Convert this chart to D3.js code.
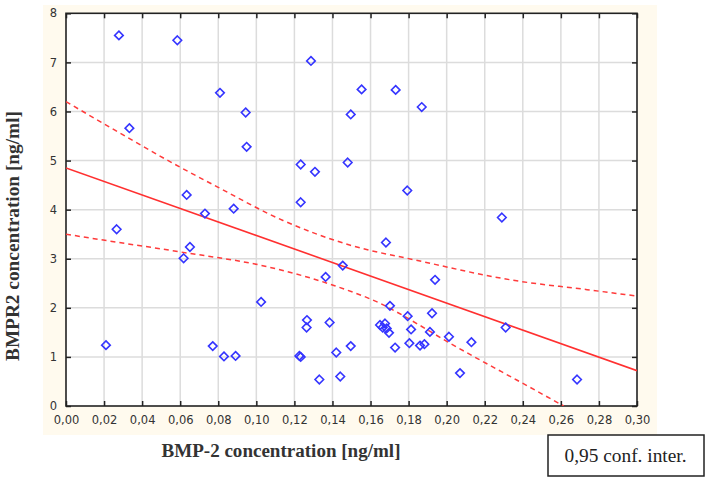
<!DOCTYPE html>
<html>
<head>
<meta charset="utf-8">
<script src="https://cdn.jsdelivr.net/npm/d3@7"></script>
<style>
  html, body { margin: 0; padding: 0; background: #ffffff; }
  svg { display: block; }
</style>
</head>
<body>
<svg id="chart" width="710" height="481"></svg>
<script>
// ---- data ----
const xValues = [0.0278, 0.0585, 0.1287, 0.0809, 0.0944, 0.1496, 0.1553, 0.1732, 0.1869, 0.0333,
                 0.0949, 0.1233, 0.1308, 0.1480, 0.1793, 0.0634, 0.1233, 0.0881, 0.0730, 0.2290,
                 0.0266, 0.0651, 0.0618, 0.1364, 0.1454, 0.1025, 0.1266, 0.1264, 0.1385, 0.0210,
                 0.0771, 0.0830, 0.0891, 0.1226, 0.1233, 0.1496, 0.1420, 0.1331, 0.1441,
                 0.1681, 0.1939, 0.1702, 0.1923, 0.1795, 0.1650, 0.1676, 0.1664, 0.1685, 0.1697,
                 0.1813, 0.1912, 0.2310, 0.2012, 0.2130, 0.1804, 0.1860, 0.1883, 0.1729, 0.2070, 0.2685];
const yValues = [7.55, 7.45, 7.03, 6.38, 5.98, 5.94, 6.45, 6.44, 6.09, 5.66,
                 5.28, 4.92, 4.77, 4.96, 4.39, 4.30, 4.15, 4.02, 3.92, 3.84,
                 3.60, 3.24, 3.01, 2.63, 2.86, 2.12, 1.75, 1.60, 1.70, 1.24,
                 1.22, 1.01, 1.02, 1.02, 1.00, 1.22, 1.09, 0.54, 0.60,
                 3.33, 2.57, 2.04, 1.89, 1.83, 1.65, 1.68, 1.60, 1.58, 1.49,
                 1.56, 1.51, 1.60, 1.41, 1.30, 1.28, 1.23, 1.26, 1.19, 0.67, 0.54];

const fitX = [0.00, 0.30];
const fitY = [4.85, 0.72];

const upperX = [0.000, 0.0257, 0.0564, 0.0792, 0.114, 0.149, 0.184, 0.2368, 0.2718, 0.300];
const upperY = [6.20, 5.62, 4.94, 4.47, 3.78, 3.28, 2.97, 2.55, 2.38, 2.24];
const lowerX = [0.000, 0.0179, 0.0599, 0.1054, 0.1404, 0.1667, 0.1843, 0.2017, 0.2193, 0.2368, 0.2615];
const lowerY = [3.50, 3.39, 3.14, 2.84, 2.46, 2.06, 1.68, 1.28, 0.90, 0.53, 0.00];

const xTicks = [0, 0.02, 0.04, 0.06, 0.08, 0.10, 0.12, 0.14, 0.16, 0.18, 0.20, 0.22, 0.24, 0.26, 0.28, 0.30];
const yTicks = [0, 1, 2, 3, 4, 5, 6, 7, 8];
const xTitle = "BMP-2 concentration [ng/ml]";
const yTitle = "BMPR2 concentration [ng/ml]";
const legendText = "0,95 conf. inter.";

// ---- drawing ----
const svg = d3.select("#chart");
const pL = 66, pR = 637, pT = 13.3, pB = 406;

svg.append("rect").attr("x", 43).attr("y", 5).attr("width", 614).attr("height", 430)
  .attr("fill", "#fffaee");
svg.append("rect").attr("x", pL).attr("y", pT).attr("width", pR - pL).attr("height", pB - pT)
  .attr("fill", "#ffffff");

const x = d3.scaleLinear().domain([0, 0.30]).range([pL, pR]);
const y = d3.scaleLinear().domain([0, 8]).range([pB, pT]);
const fmt = d => d3.format(".2f")(d).replace(".", ",");

// grid
const grid = svg.append("g").attr("stroke", "#dcdcdc").attr("stroke-width", 1.5);
grid.selectAll("line.gx").data(xTicks.slice(1, -1)).join("line")
  .attr("x1", d => x(d)).attr("x2", d => x(d)).attr("y1", pT).attr("y2", pB);
grid.selectAll("line.gy").data(yTicks.slice(1, -1)).join("line")
  .attr("x1", pL).attr("x2", pR).attr("y1", d => y(d)).attr("y2", d => y(d));

// axes (ticks inward)
const axisStyle = g => {
  g.select(".domain").remove();
  g.selectAll(".tick line").attr("stroke", "#222").attr("stroke-width", 1.5);
  g.selectAll(".tick text").attr("fill", "#333").attr("font-family", "DejaVu Sans, Verdana, sans-serif")
    .attr("font-size", "11.5px");
};
svg.append("g").attr("transform", `translate(0,${pB})`)
  .call(d3.axisBottom(x).tickValues(xTicks).tickFormat(fmt).tickSizeInner(-5).tickSizeOuter(0).tickPadding(10))
  .call(axisStyle);
svg.append("g").attr("transform", `translate(${pL},0)`)
  .call(d3.axisLeft(y).tickValues(yTicks).tickFormat(d3.format("d")).tickSizeInner(-5).tickSizeOuter(0).tickPadding(9))
  .call(axisStyle);
svg.append("g").attr("transform", `translate(0,${pT})`)
  .call(d3.axisTop(x).tickValues(xTicks).tickFormat("").tickSizeInner(-5).tickSizeOuter(0))
  .call(axisStyle);
svg.append("g").attr("transform", `translate(${pR},0)`)
  .call(d3.axisRight(y).tickValues(yTicks).tickFormat("").tickSizeInner(-5).tickSizeOuter(0))
  .call(axisStyle);

// frame
svg.append("rect").attr("x", pL).attr("y", pT).attr("width", pR - pL).attr("height", pB - pT)
  .attr("fill", "none").attr("stroke", "#222").attr("stroke-width", 1.6);

// clip
svg.append("clipPath").attr("id", "plotclip").append("rect")
  .attr("x", pL).attr("y", pT).attr("width", pR - pL).attr("height", pB - pT);
const plot = svg.append("g").attr("clip-path", "url(#plotclip)");

const lineGen = d3.line().x(d => x(d[0])).y(d => y(d[1])).curve(d3.curveMonotoneX);
plot.append("path").datum(d3.zip(upperX, upperY)).attr("d", lineGen)
  .attr("fill", "none").attr("stroke", "#ff3b3b").attr("stroke-width", 1.5).attr("stroke-dasharray", "5,4");
plot.append("path").datum(d3.zip(lowerX, lowerY)).attr("d", lineGen)
  .attr("fill", "none").attr("stroke", "#ff3b3b").attr("stroke-width", 1.5).attr("stroke-dasharray", "5,4");
plot.append("path").datum(d3.zip(fitX, fitY)).attr("d", d3.line().x(d => x(d[0])).y(d => y(d[1])))
  .attr("fill", "none").attr("stroke", "#ff3030").attr("stroke-width", 1.6);

// points
const diamond = "M0,-4.3L4.3,0L0,4.3L-4.3,0Z";
plot.selectAll("path.pt").data(d3.zip(xValues, yValues)).join("path")
  .attr("class", "pt")
  .attr("transform", d => `translate(${x(d[0])},${y(d[1])})`)
  .attr("d", diamond)
  .attr("fill", "none").attr("stroke", "#3535ff").attr("stroke-width", 1.6);

// titles
svg.append("text").attr("x", 281).attr("y", 456.7).attr("text-anchor", "middle")
  .attr("font-family", "Liberation Serif, Times New Roman, serif").attr("font-weight", "bold")
  .attr("font-size", "18px").attr("fill", "#333")
  .attr("textLength", 239).attr("lengthAdjust", "spacingAndGlyphs").text(xTitle);
svg.append("text").attr("transform", "translate(18.5,236) rotate(-90)").attr("text-anchor", "middle")
  .attr("font-family", "Liberation Serif, Times New Roman, serif").attr("font-weight", "bold")
  .attr("font-size", "18px").attr("fill", "#333")
  .attr("textLength", 250).attr("lengthAdjust", "spacingAndGlyphs").text(yTitle);

// legend box
svg.append("rect").attr("x", 548).attr("y", 435).attr("width", 156).attr("height", 41)
  .attr("fill", "#ffffff").attr("stroke", "#222").attr("stroke-width", 1.5);
svg.append("text").attr("x", 625.5).attr("y", 461.7).attr("text-anchor", "middle")
  .attr("font-family", "Liberation Serif, Times New Roman, serif")
  .attr("font-size", "19.5px").attr("fill", "#222")
  .attr("textLength", 122).attr("lengthAdjust", "spacingAndGlyphs").text(legendText);
</script>
</body>
</html>
